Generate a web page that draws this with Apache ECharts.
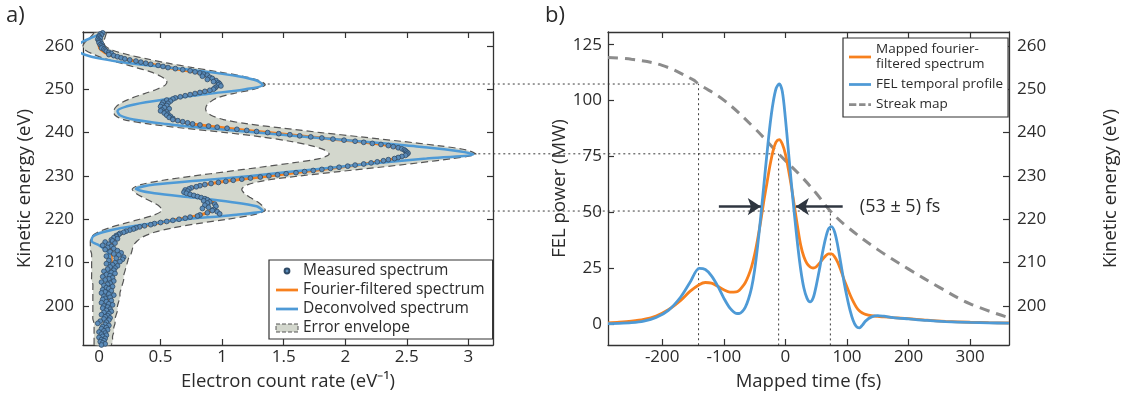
<!DOCTYPE html>
<html>
<head>
<meta charset="utf-8">
<script src="https://cdn.jsdelivr.net/npm/echarts@6/dist/echarts.min.js"></script>
<style>
  html, body { margin: 0; padding: 0; background: #fff; }
  #chart { width: 1129px; height: 397px; }
</style>
</head>
<body>
<div id="chart"></div>
<script>
// ---- panel a: electron spectrum, energy runs up the vertical axis
const energyGrid = [263, 262, 261, 260, 259, 258, 257, 256, 255, 254, 253, 252, 251, 250, 249, 248, 247, 246, 245, 244,
  243, 242, 241, 240, 239, 238, 237, 236, 235, 234, 233, 232, 231, 230, 229, 228, 227, 226, 225, 224,
  223, 222, 221, 220, 219, 218, 217, 216, 215, 214, 213, 212, 211, 210, 209, 208, 207, 206, 205, 204,
  203, 202, 201, 200, 199, 198, 197, 196, 195, 194, 193, 192, 191];

const fourierRate = [0.02, 0.0, 0.0, 0.0, 0.02, 0.08, 0.21, 0.38, 0.56, 0.77, 0.89, 0.95, 0.97, 0.93, 0.79, 0.63, 0.54, 0.52, 0.52, 0.55,
  0.61, 0.76, 1.04, 1.37, 1.72, 2.08, 2.35, 2.48, 2.5, 2.4, 2.21, 1.95, 1.67, 1.38, 1.09, 0.86, 0.73, 0.71, 0.83, 0.92,
  0.95, 0.92, 0.82, 0.65, 0.45, 0.3, 0.2, 0.14, 0.11, 0.1, 0.1, 0.1, 0.1, 0.1, 0.09, 0.09, 0.08, 0.08, 0.08, 0.07,
  0.07, 0.07, 0.07, 0.06, 0.06, 0.06, 0.05, 0.05, 0.05, 0.04, 0.04, 0.03, 0.03];

const deconvRate = [0.03, -0.05, -0.13, -0.17, -0.17, -0.12, 0.02, 0.25, 0.57, 0.88, 1.13, 1.28, 1.33, 1.19, 0.91, 0.62, 0.38, 0.22, 0.15, 0.17,
  0.28, 0.54, 0.89, 1.28, 1.69, 2.11, 2.5, 2.85, 3.04, 2.66, 2.26, 1.92, 1.57, 1.23, 0.84, 0.45, 0.3, 0.45, 0.77, 1.07,
  1.28, 1.33, 1.09, 0.71, 0.42, 0.18, 0.03, -0.05, -0.06, 0.0, 0.05, 0.08, 0.09, 0.09, 0.09, 0.08, 0.08, 0.08, 0.07, 0.07,
  0.07, 0.07, 0.06, 0.06, 0.06, 0.05, 0.05, 0.05, 0.04, 0.04, 0.03, 0.03, 0.03];

const envelopeLow = [-0.04, -0.07, -0.11, -0.13, -0.11, -0.04, 0.05, 0.18, 0.3, 0.42, 0.5, 0.55, 0.54, 0.47, 0.37, 0.27, 0.19, 0.14, 0.12, 0.13,
  0.2, 0.4, 0.69, 1.03, 1.32, 1.55, 1.72, 1.83, 1.87, 1.79, 1.57, 1.31, 1.04, 0.77, 0.52, 0.34, 0.27, 0.3, 0.36, 0.43,
  0.49, 0.51, 0.45, 0.33, 0.2, 0.08, -0.01, -0.06, -0.07, -0.07, -0.07, -0.06, -0.06, -0.06, -0.06, -0.06, -0.06, -0.06, -0.05, -0.05,
  -0.05, -0.05, -0.05, -0.05, -0.05, -0.05, -0.05, -0.04, -0.04, -0.04, -0.04, -0.04, -0.04];

const envelopeHigh = [0.06, 0.05, 0.04, 0.05, 0.11, 0.23, 0.39, 0.56, 0.76, 0.97, 1.17, 1.3, 1.35, 1.26, 1.09, 0.96, 0.9, 0.87, 0.87, 0.91,
  1.01, 1.21, 1.5, 1.8, 2.13, 2.45, 2.75, 2.98, 3.06, 2.87, 2.59, 2.28, 1.95, 1.63, 1.36, 1.21, 1.16, 1.18, 1.23, 1.29,
  1.33, 1.35, 1.25, 1.04, 0.8, 0.6, 0.45, 0.36, 0.31, 0.28, 0.27, 0.26, 0.24, 0.23, 0.22, 0.21, 0.2, 0.2, 0.19, 0.18,
  0.17, 0.17, 0.16, 0.15, 0.15, 0.14, 0.13, 0.13, 0.12, 0.12, 0.11, 0.11, 0.1];

// measured spectrum, 0.25 eV bins from 263 eV downwards
const measuredStart = 263;
const measuredStep = 0.25;
const measuredRate = [
  0.03, 0.01, 0.02, 0.0,   0.0, 0.01, -0.01, 0.0,   0.01, 0.0, 0.02, 0.01,   0.02, 0.03, 0.02, 0.04,
  0.05, 0.06, 0.08, 0.1,   0.08, 0.12, 0.15, 0.18,  0.21, 0.25, 0.3, 0.34,   0.38, 0.42, 0.48, 0.52,
  0.56, 0.62, 0.68, 0.74,  0.78, 0.82, 0.85, 0.88,  0.84, 0.9, 0.92, 0.88,   0.95, 0.93, 0.97, 0.98,
  0.97, 0.99, 0.95, 0.94,  0.93, 0.9, 0.86, 0.82,   0.78, 0.74, 0.7, 0.66,   0.62, 0.6, 0.55, 0.58,
  0.52, 0.56, 0.51, 0.55,  0.5, 0.53, 0.57, 0.51,   0.5, 0.55, 0.53, 0.56,   0.55, 0.58, 0.57, 0.6,
  0.6, 0.64, 0.68, 0.72,   0.76, 0.82, 0.89, 0.96,  1.04, 1.12, 1.2, 1.28,   1.37, 1.46, 1.55, 1.63,
  1.72, 1.81, 1.9, 1.99,   2.08, 2.15, 2.22, 2.29,  2.35, 2.39, 2.43, 2.46,  2.48, 2.49, 2.5, 2.51,
  2.5, 2.49, 2.46, 2.43,   2.4, 2.35, 2.31, 2.26,   2.21, 2.15, 2.08, 2.02,  1.95, 1.88, 1.81, 1.74,
  1.67, 1.6, 1.52, 1.45,   1.38, 1.31, 1.23, 1.16,  1.09, 1.03, 0.97, 0.91,  0.86, 0.82, 0.79, 0.75,
  0.73, 0.7, 0.72, 0.69,   0.71, 0.74, 0.77, 0.8,   0.83, 0.86, 0.88, 0.85,  0.9, 0.88, 0.94, 0.86,
  0.95, 0.89, 0.84, 0.93,  0.92, 0.96, 0.88, 0.98,  0.82, 0.8, 0.74, 0.7,    0.65, 0.6, 0.55, 0.5,
  0.45, 0.42, 0.37, 0.33,  0.3, 0.28, 0.25, 0.22,   0.2, 0.17, 0.16, 0.14,   0.14, 0.12, 0.15, 0.1,
  0.11, 0.05, 0.13, 0.08,  0.03, 0.1, 0.07, 0.12,   0.05, 0.15, 0.09, 0.18,  0.12, 0.16, 0.06, 0.2,
  0.14, 0.19, 0.08, 0.17,  0.13, 0.06, 0.11, 0.15,  0.09, 0.13, 0.07, 0.12,  0.04, 0.1, 0.13, 0.06,
  0.09, 0.03, 0.11, 0.08,  0.05, 0.12, 0.02, 0.09,  0.07, 0.04, 0.11, 0.06,  0.08, 0.03, 0.1, 0.05,
  0.02, 0.08, 0.12, 0.04,  0.09, 0.05, 0.03, 0.1,   0.06, 0.02, 0.08, 0.11,  0.04, 0.07, 0.03, 0.09,
  0.06, 0.1, 0.04, 0.08,   0.02, 0.07, 0.05, 0.09,  0.04, 0.08, 0.01, 0.06,  -0.01, 0.05, 0.08, 0.03,
  0.06, 0.02, 0.07, 0.04,  0.0, 0.05, 0.02, 0.06,   0.03, 0.0, 0.05, 0.02,   0.04, 0.01, 0.03, 0.05,
  0.02
];

// ---- panel b: reconstructed temporal profile
const timeGrid = [-288, -270, -250, -230, -210, -190, -170, -155, -140, -130,
  -120, -110, -100, -90, -80, -75, -70, -65, -60, -55,
  -50, -45, -40, -35, -30, -25, -20, -15, -10, -5,
  0, 5, 10, 15, 20, 25, 30, 35, 40, 45,
  50, 55, 60, 65, 70, 75, 80, 85, 90, 95,
  100, 105, 110, 115, 120, 125, 130, 140, 150, 160,
  175, 200, 230, 260, 300, 330, 363];

const mappedPower = [0.4, 0.7, 1.2, 2.0, 3.5, 6.3, 10.5, 14.5, 17.5, 18.5,
  18.2, 16.8, 15.2, 14.2, 14.3, 15, 16.5, 18.5, 21.5, 25.5,
  31, 38, 46, 55, 63, 71, 77.5, 81.5, 82.5, 80.5,
  76, 69, 61, 52, 43, 35, 30, 27, 25.5, 25,
  25.5, 27, 28.8, 30.3, 31.3, 31.3, 30, 27.5, 24, 20,
  16.5, 13, 10, 7.5, 5.8, 4.8, 4.2, 3.6, 3.3, 3.1,
  2.8, 2.3, 1.6, 1.1, 0.7, 0.5, 0.35];

const felPower = [0.1, 0.2, 0.5, 1.2, 2.8, 6.0, 12.0, 18.5, 24.8, 24.3,
  21.5, 17, 11.5, 7, 4.7, 4.6, 5.5, 7.5, 11, 16,
  24, 35, 48, 62, 76, 89, 99, 105.5, 107.5, 104,
  92, 77, 62, 48, 35, 24, 16, 11.5, 9.8, 11.5,
  17, 24, 31.5, 38, 42.5, 43.5, 41, 35, 27, 19,
  12, 6, 1.5, -1.2, -1.8, -0.6, 1.2, 3.1, 3.7, 3.4,
  2.8, 2.2, 1.5, 1.0, 0.6, 0.4, 0.3];

const streakTime = [-288, -250, -200, -150, -141, -100, -50, -11, 25, 50, 73, 100, 150, 200, 250, 300, 363];
const streakEnergy = [257.3, 256.9, 255.5, 252.2, 251.2, 247.5, 241, 235.1, 230, 226, 221.9, 218.3, 213, 208.5, 204.3, 200.5, 197.3];

// guide lines: deconvolved peak -> streak map -> time
const guideEnergy = [251.2, 235.1, 221.9];
const guideRate = [1.33, 3.04, 1.33];
const guideTime = [-141, -11, 73];

// FWHM arrows
const fwhmLevel = 52.5;
const fwhmArrows = [[-108, -40], [93, 17]];
const fwhmText = '(53 ± 5) fs';

// ticks
const rateTicks = [0, 0.5, 1, 1.5, 2, 2.5, 3];
const energyTicks = [200, 210, 220, 230, 240, 250, 260];
const timeTicks = [-200, -100, 0, 100, 200, 300];
const powerTicks = [0, 25, 50, 75, 100, 125];

const rateRange = [-0.13, 3.2];
const energyRange = [191, 263.2];
const timeRange = [-288, 363];
const powerRange = [-9.5, 130.7];

const FONT = 'Open Sans';
const INK = '#2b2b2b';
const ORANGE = '#f7801e';
const BLUE = '#4e9ad6';
const LINE_ICON = 'path://M0,0H24V3H0Z';
const DASH_ICON = 'path://M0,0H8V3H0ZM11,0H18V3H11ZM21,0H24V3H21Z';
// small dot centred in an otherwise empty 22x8 box
const DOT_ICON = 'path://M0,0M22,8M8.6,4A2.4,2.4,0,1,0,13.4,4A2.4,2.4,0,1,0,8.6,4Z';

const zip = (xs, ys) => xs.map((x, i) => [x, ys[i]]);

function axisBase(ticks, range, showLabel, extra) {
  return Object.assign({
    type: 'value',
    min: range[0],
    max: range[1],
    axisLine: { show: true, onZero: false, lineStyle: { color: '#333', width: 1.3 } },
    axisTick: { show: true, inside: true, length: 6, customValues: ticks, lineStyle: { color: '#333', width: 1.2 } },
    axisLabel: { show: showLabel, customValues: ticks, color: INK, fontSize: 17, fontFamily: FONT },
    splitLine: { show: false }
  }, extra);
}

const nameStyle = { color: INK, fontSize: 18.5, fontFamily: FONT };
const labelStyle = (ticks, margin) => ({ customValues: ticks, color: INK, fontSize: 17, fontFamily: FONT, margin: margin });

const chart = echarts.init(document.getElementById('chart'), null, { renderer: 'canvas' });

const option = {
  animation: false,
  backgroundColor: '#fff',
  grid: [
    { left: 83, top: 32, width: 410, height: 313 },
    { left: 608, top: 32, width: 401, height: 313 }
  ],
  xAxis: [
    axisBase(rateTicks, rateRange, true, { gridIndex: 0, position: 'bottom', name: 'Electron count rate (eV⁻¹)', nameLocation: 'middle', nameGap: 27, nameTextStyle: nameStyle, axisLabel: labelStyle(rateTicks, 4) }),
    axisBase(rateTicks, rateRange, false, { gridIndex: 0, position: 'top' }),
    axisBase(timeTicks, timeRange, true, { gridIndex: 1, position: 'bottom', name: 'Mapped time (fs)', nameLocation: 'middle', nameGap: 27, nameTextStyle: nameStyle, axisLabel: labelStyle(timeTicks, 4) }),
    axisBase(timeTicks, timeRange, false, { gridIndex: 1, position: 'top' })
  ],
  yAxis: [
    axisBase(energyTicks, energyRange, true, { gridIndex: 0, position: 'left', name: 'Kinetic energy (eV)', nameLocation: 'middle', nameGap: 49, nameTextStyle: nameStyle, axisLabel: labelStyle(energyTicks, 9) }),
    axisBase(energyTicks, energyRange, false, { gridIndex: 0, position: 'right' }),
    axisBase(powerTicks, powerRange, true, { gridIndex: 1, position: 'left', name: 'FEL power (MW)', nameLocation: 'middle', nameGap: 25, nameTextStyle: nameStyle, axisLabel: labelStyle(powerTicks, 6) }),
    axisBase(energyTicks, energyRange, true, { gridIndex: 1, position: 'right', name: 'Kinetic energy (eV)', nameLocation: 'middle', nameGap: 92, nameTextStyle: nameStyle, axisLabel: labelStyle(energyTicks, 8) })
  ],
  legend: [
    {
      left: 269, top: 260, orient: 'vertical',
      padding: [3, 8, 3, 6], itemGap: 3, itemWidth: 22, itemHeight: 8,
      borderColor: '#333', borderWidth: 1.2, backgroundColor: '#fff',
      textStyle: { color: INK, fontSize: 15.5, fontFamily: FONT },
      data: [
        { name: 'Measured spectrum', icon: DOT_ICON },
        { name: 'Fourier-filtered spectrum', icon: LINE_ICON },
        { name: 'Deconvolved spectrum', icon: LINE_ICON },
        { name: 'Error envelope', icon: 'rect', itemStyle: { color: '#d3d7cd', borderColor: '#555', borderWidth: 1, borderType: 'dashed' } }
      ]
    },
    {
      left: 843, top: 38, orient: 'vertical',
      padding: [4, 5, 5, 6], itemGap: 5, itemWidth: 22, itemHeight: 8,
      borderColor: '#333', borderWidth: 1.2, backgroundColor: '#fff',
      textStyle: { color: INK, fontSize: 13.5, fontFamily: FONT, lineHeight: 15 },
      data: [
        { name: 'Mapped fourier-\nfiltered spectrum', icon: LINE_ICON },
        { name: 'FEL temporal profile', icon: LINE_ICON },
        { name: 'Streak map', icon: DASH_ICON }
      ]
    }
  ],
  series: [
    {
      name: 'Error envelope',
      type: 'custom',
      xAxisIndex: 0, yAxisIndex: 0,
      data: [[envelopeLow[0], energyGrid[0]]],
      itemStyle: { color: '#d3d7cd' },
      z: 1,
      renderItem: function (params, api) {
        const upper = energyGrid.map((e, i) => api.coord([envelopeHigh[i], e]));
        const lower = energyGrid.map((e, i) => api.coord([envelopeLow[i], e]));
        const dash = { stroke: '#555', lineWidth: 1.2, lineDash: [7, 4], fill: null };
        return {
          type: 'group',
          children: [
            { type: 'polygon', shape: { points: upper.concat(lower.slice().reverse()), smooth: 0.3 }, style: { fill: '#d3d7cd', stroke: null } },
            { type: 'polyline', shape: { points: upper, smooth: 0.3 }, style: dash },
            { type: 'polyline', shape: { points: lower, smooth: 0.3 }, style: dash }
          ]
        };
      }
    },
    {
      name: 'Fourier-filtered spectrum',
      type: 'line', xAxisIndex: 0, yAxisIndex: 0,
      data: zip(fourierRate, energyGrid),
      symbol: 'none', smooth: 0.3,
      lineStyle: { color: ORANGE, width: 3 }, itemStyle: { color: ORANGE },
      z: 3
    },
    {
      name: 'Deconvolved spectrum',
      type: 'line', xAxisIndex: 0, yAxisIndex: 0,
      data: zip(deconvRate, energyGrid),
      symbol: 'none', smooth: 0.3,
      lineStyle: { color: BLUE, width: 2.5 }, itemStyle: { color: BLUE },
      z: 4
    },
    {
      name: 'Measured spectrum',
      type: 'scatter', xAxisIndex: 0, yAxisIndex: 0,
      data: measuredRate.map((r, i) => [r, measuredStart - measuredStep * i]),
      symbolSize: 4.8,
      itemStyle: { color: '#5b8cba', borderColor: '#2f4a66', borderWidth: 0.8, opacity: 1 },
      z: 5
    },
    {
      name: 'Streak map',
      type: 'line', xAxisIndex: 2, yAxisIndex: 3,
      data: zip(streakTime, streakEnergy),
      symbol: 'none', smooth: 0.4,
      lineStyle: { color: '#8c8c8c', width: 3, type: [10, 7] }, itemStyle: { color: '#8c8c8c' },
      z: 2
    },
    {
      name: 'Mapped fourier-\nfiltered spectrum',
      type: 'line', xAxisIndex: 2, yAxisIndex: 2,
      data: zip(timeGrid, mappedPower),
      symbol: 'none', smooth: 0.3,
      lineStyle: { color: ORANGE, width: 2.8 }, itemStyle: { color: ORANGE },
      z: 3
    },
    {
      name: 'FEL temporal profile',
      type: 'line', xAxisIndex: 2, yAxisIndex: 2,
      data: zip(timeGrid, felPower),
      symbol: 'none', smooth: 0.3,
      lineStyle: { color: BLUE, width: 2.8 }, itemStyle: { color: BLUE },
      z: 4,
      markLine: {
        silent: true,
        symbol: ['none', 'arrow'],
        symbolSize: [13, 13],
        label: { show: false },
        lineStyle: { color: '#2f3640', width: 2.5, type: 'solid' },
        data: fwhmArrows.map(a => [{ coord: [a[0], fwhmLevel] }, { coord: [a[1], fwhmLevel] }])
      },
      markPoint: {
        silent: true,
        symbol: 'rect', symbolSize: 1,
        itemStyle: { color: 'rgba(0,0,0,0)' },
        label: { show: true, position: 'right', distance: 0, formatter: fwhmText, color: INK, fontSize: 18, fontFamily: FONT },
        data: [{ coord: [120, fwhmLevel] }]
      }
    }
  ]
};

chart.setOption(option);

// dotted guide lines through both panels, placed with the axes' own scales
const bottomY = chart.convertToPixel({ yAxisIndex: 2 }, powerRange[0]);
const guides = guideEnergy.map((e, i) => {
  const a = chart.convertToPixel({ xAxisIndex: 0, yAxisIndex: 0 }, [guideRate[i], e]);
  const b = chart.convertToPixel({ xAxisIndex: 2, yAxisIndex: 3 }, [guideTime[i], e]);
  return {
    type: 'polyline', silent: true, z: 1,
    shape: { points: [a, [b[0], a[1]], [b[0], bottomY]] },
    style: { stroke: '#3a3a3a', lineWidth: 1, lineDash: [2, 3], fill: null }
  };
});

chart.setOption({
  graphic: [
    { type: 'text', left: 6, top: 5, style: { text: 'a)', fill: INK, font: '22px "Open Sans"' } },
    { type: 'text', left: 545, top: 5, style: { text: 'b)', fill: INK, font: '22px "Open Sans"' } }
  ].concat(guides)
});
</script>
</body>
</html>
